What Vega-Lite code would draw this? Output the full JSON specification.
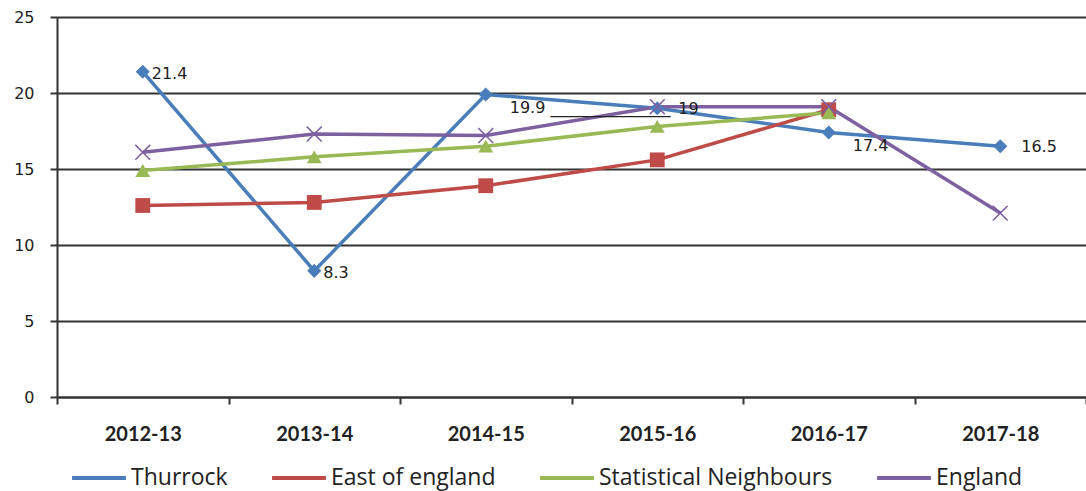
{
  "$schema": "https://vega.github.io/schema/vega-lite/v6.json",
  "width": 1029,
  "height": 380,
  "autosize": {"type": "none"},
  "padding": {"left": 57, "top": 17, "right": 0, "bottom": 94},
  "background": "white",
  "config": {
    "view": {"stroke": null},
    "axis": {"domainColor": "#333", "domainWidth": 2, "tickColor": "#333", "tickWidth": 2, "labelColor": "#222"}
  },
  "data": {
    "values": [
      {"year": "2012-13", "series": "Thurrock", "value": 21.4, "label": "21.4"},
      {"year": "2013-14", "series": "Thurrock", "value": 8.3, "label": "8.3"},
      {"year": "2014-15", "series": "Thurrock", "value": 19.9, "label": "19.9 _______________"},
      {"year": "2015-16", "series": "Thurrock", "value": 19.0, "label": "19"},
      {"year": "2016-17", "series": "Thurrock", "value": 17.4, "label": "17.4"},
      {"year": "2017-18", "series": "Thurrock", "value": 16.5, "label": "16.5"},
      {"year": "2012-13", "series": "East of england", "value": 12.6},
      {"year": "2013-14", "series": "East of england", "value": 12.8},
      {"year": "2014-15", "series": "East of england", "value": 13.9},
      {"year": "2015-16", "series": "East of england", "value": 15.6},
      {"year": "2016-17", "series": "East of england", "value": 18.9},
      {"year": "2012-13", "series": "Statistical Neighbours", "value": 14.9},
      {"year": "2013-14", "series": "Statistical Neighbours", "value": 15.8},
      {"year": "2014-15", "series": "Statistical Neighbours", "value": 16.5},
      {"year": "2015-16", "series": "Statistical Neighbours", "value": 17.8},
      {"year": "2016-17", "series": "Statistical Neighbours", "value": 18.7},
      {"year": "2012-13", "series": "England", "value": 16.1},
      {"year": "2013-14", "series": "England", "value": 17.3},
      {"year": "2014-15", "series": "England", "value": 17.2},
      {"year": "2015-16", "series": "England", "value": 19.1},
      {"year": "2016-17", "series": "England", "value": 19.1},
      {"year": "2017-18", "series": "England", "value": 12.1}
    ]
  },
  "encoding": {
    "x": {
      "field": "year", "type": "ordinal", "bandPosition": 0.5,
      "scale": {"type": "band", "paddingInner": 0, "paddingOuter": 0},
      "axis": {"title": null, "labelAngle": 0, "tickBand": "extent", "tickSize": 7, "labelFont": "Lato", "labelFontSize": 20, "labelFontWeight": "bold", "labelPadding": 20, "grid": false}
    },
    "y": {
      "field": "value", "type": "quantitative",
      "scale": {"domain": [0, 25], "nice": false},
      "axis": {"title": null, "values": [0, 5, 10, 15, 20, 25], "grid": true, "gridColor": "#333", "gridWidth": 2, "gridOpacity": 1, "tickSize": 7, "labelFont": "DejaVu Sans", "labelFontSize": 16, "labelPadding": 16}
    }
  },
  "layer": [
    {
      "mark": {"type": "line", "strokeWidth": 3.5},
      "encoding": {
        "color": {
          "field": "series", "type": "nominal",
          "scale": {"domain": ["Thurrock", "East of england", "Statistical Neighbours", "England"], "range": ["#4A7EBB", "#BE4B48", "#98B954", "#7D60A0"]},
          "legend": {
            "orient": "none", "legendX": 13, "legendY": 432, "direction": "horizontal", "title": null,
            "symbolType": "stroke", "symbolSize": 2900, "symbolStrokeWidth": 4,
            "labelFont": "Open Sans", "labelFontSize": 23, "labelColor": "#222", "labelLimit": 500,
            "columnPadding": 36, "labelOffset": 3, "padding": 0
          }
        }
      }
    },
    {
      "transform": [{"filter": {"field": "series", "equal": "Thurrock"}}],
      "mark": {"type": "point", "shape": "diamond", "filled": true, "size": 200, "color": "#4A7EBB", "opacity": 1}
    },
    {
      "transform": [{"filter": {"field": "series", "equal": "East of england"}}],
      "mark": {"type": "point", "shape": "square", "filled": true, "size": 220, "color": "#BE4B48", "opacity": 1}
    },
    {
      "transform": [{"filter": {"field": "series", "equal": "Statistical Neighbours"}}],
      "mark": {"type": "point", "shape": "triangle-up", "filled": true, "size": 220, "color": "#98B954", "opacity": 1}
    },
    {
      "transform": [{"filter": {"field": "series", "equal": "England"}}],
      "mark": {"type": "point", "shape": "M-1,-1L1,1M-1,1L1,-1", "filled": false, "size": 220, "color": "#7D60A0", "strokeWidth": 1.5, "opacity": 1}
    },
    {
      "transform": [{"filter": {"field": "year", "oneOf": ["2012-13", "2013-14"]}}, {"filter": "datum.label != null"}],
      "mark": {"type": "text", "align": "left", "baseline": "middle", "dx": 9, "dy": 2, "font": "DejaVu Sans", "fontSize": 16, "color": "#222"},
      "encoding": {"text": {"field": "label"}}
    },
    {
      "transform": [{"filter": {"field": "year", "oneOf": ["2014-15", "2016-17"]}}, {"filter": "datum.label != null"}],
      "mark": {"type": "text", "align": "left", "baseline": "middle", "dx": 24, "dy": 13, "font": "DejaVu Sans", "fontSize": 16, "color": "#222"},
      "encoding": {"text": {"field": "label"}}
    },
    {
      "transform": [{"filter": {"field": "year", "oneOf": ["2015-16", "2017-18"]}}, {"filter": "datum.label != null"}],
      "mark": {"type": "text", "align": "left", "baseline": "middle", "dx": 21, "dy": 1, "font": "DejaVu Sans", "fontSize": 16, "color": "#222"},
      "encoding": {"text": {"field": "label"}}
    }
  ]
}
